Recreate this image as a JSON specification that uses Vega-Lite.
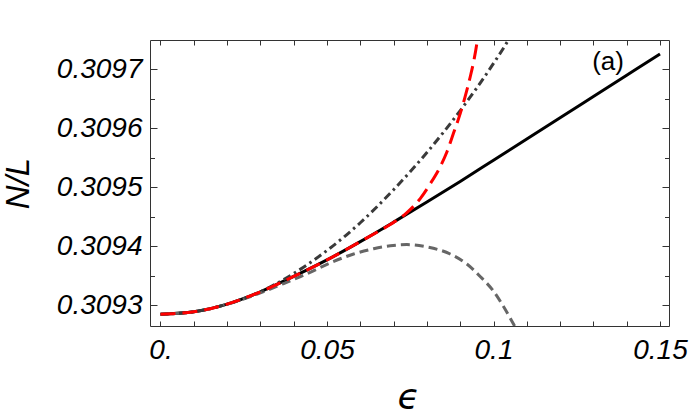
{
  "$schema": "https://vega.github.io/schema/vega-lite/v6.json",
  "width": 519,
  "height": 286,
  "autosize": "none",
  "padding": {"left": 150, "top": 40, "right": 20, "bottom": 92},
  "background": "white",
  "config": {"view": {"stroke": null}},
  "data": {"values": [
    {"s": "exact", "x": 0.0, "y": 0.309285},
    {"s": "exact", "x": 0.01, "y": 0.309289},
    {"s": "exact", "x": 0.02, "y": 0.309302},
    {"s": "exact", "x": 0.03, "y": 0.309323},
    {"s": "exact", "x": 0.04, "y": 0.309349},
    {"s": "exact", "x": 0.05, "y": 0.309377},
    {"s": "exact", "x": 0.06, "y": 0.309408},
    {"s": "exact", "x": 0.07, "y": 0.309441},
    {"s": "exact", "x": 0.08, "y": 0.309475},
    {"s": "exact", "x": 0.09, "y": 0.309510},
    {"s": "exact", "x": 0.10, "y": 0.309546},
    {"s": "exact", "x": 0.11, "y": 0.309582},
    {"s": "exact", "x": 0.12, "y": 0.309618},
    {"s": "exact", "x": 0.13, "y": 0.309654},
    {"s": "exact", "x": 0.14, "y": 0.309690},
    {"s": "exact", "x": 0.15, "y": 0.309726},

    {"s": "low", "x": 0.0, "y": 0.309285},
    {"s": "low", "x": 0.01, "y": 0.309289},
    {"s": "low", "x": 0.02, "y": 0.309302},
    {"s": "low", "x": 0.03, "y": 0.309321},
    {"s": "low", "x": 0.037, "y": 0.309337},
    {"s": "low", "x": 0.043, "y": 0.309351},
    {"s": "low", "x": 0.051, "y": 0.309372},
    {"s": "low", "x": 0.058, "y": 0.309387},
    {"s": "low", "x": 0.064, "y": 0.309396},
    {"s": "low", "x": 0.069, "y": 0.309401},
    {"s": "low", "x": 0.074, "y": 0.309403},
    {"s": "low", "x": 0.080, "y": 0.309399},
    {"s": "low", "x": 0.087, "y": 0.309387},
    {"s": "low", "x": 0.092, "y": 0.309370},
    {"s": "low", "x": 0.096, "y": 0.309349},
    {"s": "low", "x": 0.100, "y": 0.309324},
    {"s": "low", "x": 0.103, "y": 0.309298},
    {"s": "low", "x": 0.107, "y": 0.309258},

    {"s": "quad", "x": 0.0, "y": 0.309285},
    {"s": "quad", "x": 0.01, "y": 0.309289},
    {"s": "quad", "x": 0.02, "y": 0.309302},
    {"s": "quad", "x": 0.03, "y": 0.309323},
    {"s": "quad", "x": 0.04, "y": 0.309354},
    {"s": "quad", "x": 0.05, "y": 0.309393},
    {"s": "quad", "x": 0.06, "y": 0.309440},
    {"s": "quad", "x": 0.07, "y": 0.309496},
    {"s": "quad", "x": 0.08, "y": 0.309559},
    {"s": "quad", "x": 0.09, "y": 0.309630},
    {"s": "quad", "x": 0.10, "y": 0.309710},
    {"s": "quad", "x": 0.1045, "y": 0.309750},
    {"s": "quad", "x": 0.106, "y": 0.309765},

    {"s": "red", "x": 0.0, "y": 0.309285},
    {"s": "red", "x": 0.01, "y": 0.309289},
    {"s": "red", "x": 0.02, "y": 0.309302},
    {"s": "red", "x": 0.03, "y": 0.309323},
    {"s": "red", "x": 0.04, "y": 0.309349},
    {"s": "red", "x": 0.05, "y": 0.309377},
    {"s": "red", "x": 0.06, "y": 0.309408},
    {"s": "red", "x": 0.065, "y": 0.309424},
    {"s": "red", "x": 0.069, "y": 0.309437},
    {"s": "red", "x": 0.074, "y": 0.309457},
    {"s": "red", "x": 0.078, "y": 0.309481},
    {"s": "red", "x": 0.081, "y": 0.309506},
    {"s": "red", "x": 0.084, "y": 0.309535},
    {"s": "red", "x": 0.086, "y": 0.309560},
    {"s": "red", "x": 0.088, "y": 0.309592},
    {"s": "red", "x": 0.090, "y": 0.309625},
    {"s": "red", "x": 0.0915, "y": 0.309654},
    {"s": "red", "x": 0.093, "y": 0.309687},
    {"s": "red", "x": 0.094, "y": 0.309712},
    {"s": "red", "x": 0.095, "y": 0.309744},
    {"s": "red", "x": 0.0955, "y": 0.309765}
  ]},
  "encoding": {
    "x": {"field": "x", "type": "quantitative", "scale": {"domain": [-0.00315, 0.1527], "nice": false, "zero": false}},
    "y": {"field": "y", "type": "quantitative", "scale": {"domain": [0.309265, 0.3097497], "nice": false, "zero": false}}
  },
  "resolve": {"axis": {"x": "independent", "y": "independent"}},
  "layer": [
    {
      "transform": [{"filter": "datum.s == 'exact'"}],
      "mark": {"type": "line", "color": "#000000", "strokeWidth": 3, "clip": true, "interpolate": "monotone"},
      "encoding": {
        "x": {"field": "x", "type": "quantitative", "axis": {
          "orient": "bottom",
          "values": [0, 0.01, 0.02, 0.03, 0.04, 0.05, 0.06, 0.07, 0.08, 0.09, 0.1, 0.11, 0.12, 0.13, 0.14, 0.15],
          "labelExpr": "abs(datum.value - round(datum.value/0.05)*0.05) < 1e-9 ? (datum.value == 0 ? '0.' : format(datum.value, '~g')) : ''",
          "grid": false, "tickSize": -5, "tickColor": "#333", "domainColor": "#333",
          "labelPadding": 15, "labelFont": "Liberation Sans", "labelFontStyle": "italic", "labelFontSize": 28, "labelColor": "#000",
          "labelOverlap": false, "labelFlush": false,
          "title": "ϵ", "titleFont": "DejaVu Sans", "titleFontStyle": "italic", "titleFontWeight": "normal", "titleFontSize": 36,
          "titleColor": "#000", "titleX": 258, "titleY": 82, "titleBaseline": "alphabetic", "titleAlign": "center"
        }},
        "y": {"field": "y", "type": "quantitative", "axis": {
          "orient": "left",
          "values": [0.3093, 0.30935, 0.3094, 0.30945, 0.3095, 0.30955, 0.3096, 0.30965, 0.3097],
          "labelExpr": "round(datum.value*100000) % 10 == 0 ? format(datum.value, '.4f') : ''",
          "grid": false,
          "tickSize": {"condition": {"test": "round(datum.value*100000) % 10 == 0", "value": -7}, "value": -4.5},
          "tickColor": "#333", "domainColor": "#333",
          "labelPadding": 15, "labelFont": "Liberation Sans", "labelFontStyle": "italic", "labelFontSize": 28, "labelColor": "#000",
          "labelOverlap": false, "labelFlush": false,
          "title": "N/L", "titleFont": "Liberation Sans", "titleFontStyle": "italic", "titleFontWeight": "normal", "titleFontSize": 33,
          "titleColor": "#000", "titleX": -122, "titleY": 143, "titleAngle": -90, "titleBaseline": "alphabetic", "titleAlign": "center"
        }}
      }
    },
    {
      "transform": [{"filter": "datum.s == 'low'"}],
      "mark": {"type": "line", "color": "#666666", "strokeWidth": 3, "strokeDash": [9, 5], "clip": true, "interpolate": "monotone"},
      "encoding": {
        "x": {"field": "x", "type": "quantitative", "axis": {
          "orient": "top",
          "values": [0, 0.01, 0.02, 0.03, 0.04, 0.05, 0.06, 0.07, 0.08, 0.09, 0.1, 0.11, 0.12, 0.13, 0.14, 0.15],
          "labels": false, "grid": false, "tickSize": -5, "tickColor": "#333", "domainColor": "#333", "title": null
        }},
        "y": {"field": "y", "type": "quantitative", "axis": {
          "orient": "right",
          "values": [0.3093, 0.30935, 0.3094, 0.30945, 0.3095, 0.30955, 0.3096, 0.30965, 0.3097],
          "labels": false, "grid": false,
          "tickSize": {"condition": {"test": "round(datum.value*100000) % 10 == 0", "value": -7}, "value": -4.5},
          "tickColor": "#333", "domainColor": "#333", "title": null
        }}
      }
    },
    {
      "transform": [{"filter": "datum.s == 'quad'"}],
      "mark": {"type": "line", "color": "#3a3a3a", "strokeWidth": 3, "strokeDash": [8, 4, 2.5, 4], "clip": true, "interpolate": "monotone"},
      "encoding": {
        "x": {"field": "x", "type": "quantitative", "axis": null},
        "y": {"field": "y", "type": "quantitative", "axis": null}
      }
    },
    {
      "transform": [{"filter": "datum.s == 'red'"}],
      "mark": {"type": "line", "color": "#ff0000", "strokeWidth": 3, "strokeDash": [15, 7], "clip": true, "interpolate": "monotone"},
      "encoding": {
        "x": {"field": "x", "type": "quantitative", "axis": null},
        "y": {"field": "y", "type": "quantitative", "axis": null}
      }
    },
    {
      "data": {"values": [{"x": 0.1344, "y": 0.3097124, "t": "(a)"}]},
      "mark": {"type": "text", "font": "Liberation Sans", "fontSize": 26, "color": "#000", "align": "center", "baseline": "middle"},
      "encoding": {
        "x": {"field": "x", "type": "quantitative", "axis": null},
        "y": {"field": "y", "type": "quantitative", "axis": null},
        "text": {"field": "t"}
      }
    }
  ]
}
